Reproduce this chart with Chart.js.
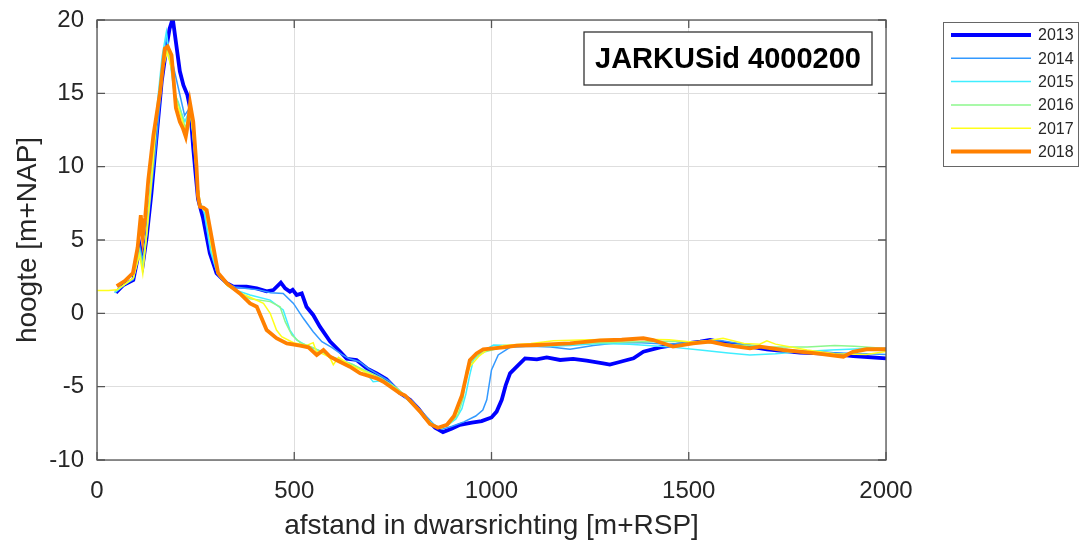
<!DOCTYPE html>
<html>
<head>
<meta charset="utf-8">
<script src="https://cdn.jsdelivr.net/npm/chart.js@4"></script>
<style>
  html, body { margin: 0; padding: 0; background: #fff; }
  #wrap { width: 1080px; height: 543px; }
</style>
</head>
<body>
<div id="wrap"><canvas id="myChart" width="1080" height="543"></canvas></div>
<script>
// jaren en kleuren
const years = ["2013", "2014", "2015", "2016", "2017", "2018"]
const colors = ["#0000ff", "#3399ff", "#40eeff", "#8cf78c", "#ffff1a", "#ff8000"]
const widths = [3.8, 1.5, 1.5, 1.5, 1.5, 3.8]

const xTicks = [0, 500, 1000, 1500, 2000]
const yTicks = [-10, -5, 0, 5, 10, 15, 20]

// profielen: afstand [m+RSP] en hoogte [m+NAP]
const dist2013 = [48, 67, 92, 109, 117, 126, 138, 147, 164, 177, 184, 192, 200, 210, 219, 229, 236, 244, 250, 256, 269, 286, 303, 329, 346, 379, 405, 430, 447, 466, 477, 489, 496, 506, 519, 531, 548, 565, 591, 616, 633, 658, 684, 709, 734, 768, 794, 815, 832, 857, 877, 900, 920, 950, 975, 1000, 1013, 1026, 1036, 1047, 1064, 1085, 1115, 1140, 1174, 1207, 1241, 1283, 1300, 1320, 1360, 1385, 1427, 1461, 1529, 1554, 1596, 1655, 1698, 1782, 1867, 1917, 2000]
const hoogte2013 = [1.4, 1.93, 2.27, 4.54, 3.5, 5.2, 8.2, 10.9, 15.8, 18.3, 19.4, 20.1, 18.5, 16.5, 15.56, 14.9, 14.0, 11.25, 9.5, 7.8, 6.48, 4.09, 2.73, 2.05, 1.82, 1.82, 1.7, 1.5, 1.59, 2.09, 1.7, 1.48, 1.6, 1.25, 1.36, 0.45, -0.11, -0.91, -1.93, -2.6, -3.1, -3.18, -3.75, -4.09, -4.5, -5.43, -5.9, -6.5, -7.1, -7.8, -8.1, -7.85, -7.6, -7.45, -7.35, -7.1, -6.7, -5.9, -4.9, -4.09, -3.64, -3.07, -3.14, -3.0, -3.18, -3.1, -3.23, -3.41, -3.5, -3.35, -3.07, -2.62, -2.32, -2.16, -1.93, -1.82, -2.05, -2.27, -2.45, -2.68, -2.77, -2.91, -3.07]

const dist2014 = [45, 67, 92, 109, 116, 126, 138, 150, 165, 176, 188, 205, 222, 235, 242, 250, 258, 272, 288, 305, 330, 350, 380, 410, 440, 472, 498, 523, 548, 570, 595, 620, 640, 665, 690, 715, 740, 768, 800, 830, 855, 875, 900, 930, 960, 978, 988, 1000, 1017, 1047, 1100, 1150, 1199, 1258, 1320, 1380, 1450, 1520, 1580, 1650, 1720, 1800, 1880, 1950, 2000]
const hoogte2014 = [1.4, 1.9, 2.3, 4.5, 3.6, 5.3, 8.5, 11.5, 16.0, 18.8, 17.5, 15.5, 13.5, 14.0, 12.5, 10.0, 7.8, 6.8, 4.2, 2.7, 2.0, 1.8, 1.7, 1.6, 1.4, 1.36, 0.68, -0.34, -1.25, -1.93, -2.32, -2.8, -3.1, -3.3, -3.8, -4.2, -4.6, -5.4, -6.0, -6.9, -7.6, -7.9, -7.7, -7.4, -7.0, -6.6, -5.9, -3.86, -2.84, -2.32, -2.25, -2.3, -2.45, -2.2, -2.0, -2.0, -2.1, -1.95, -1.85, -2.15, -2.4, -2.6, -2.7, -2.75, -2.8]

const dist2015 = [45, 67, 92, 108, 116, 126, 138, 150, 165, 176, 186, 196, 206, 215, 223, 236, 244, 252, 260, 272, 288, 305, 330, 360, 388, 439, 472, 489, 506, 531, 560, 590, 620, 650, 680, 700, 720, 750, 780, 810, 840, 865, 890, 910, 925, 935, 945, 954, 975, 1005, 1050, 1100, 1150, 1200, 1275, 1350, 1444, 1529, 1600, 1655, 1720, 1782, 1860, 1951, 2000]
const hoogte2015 = [1.4, 1.9, 2.4, 4.2, 2.95, 5.5, 9.5, 13.5, 17.5, 19.2, 17.0, 15.0, 14.4, 13.6, 13.06, 14.0, 12.0, 9.6, 7.6, 6.9, 4.3, 2.7, 1.9, 1.5, 1.25, 0.9, 0.23, -1.14, -1.82, -2.2, -2.5, -2.9, -3.2, -3.5, -4.0, -4.66, -4.6, -4.9, -5.7, -6.5, -7.3, -7.8, -7.6, -7.2, -6.5, -5.5, -4.2, -3.18, -2.62, -2.16, -2.2, -2.2, -2.25, -2.2, -2.05, -2.1, -2.27, -2.5, -2.7, -2.84, -2.75, -2.62, -2.5, -2.4, -2.4]

const dist2016 = [45, 67, 92, 108, 116, 126, 138, 150, 165, 178, 188, 200, 212, 224, 236, 246, 254, 262, 276, 292, 308, 330, 360, 388, 439, 464, 477, 494, 515, 545, 575, 605, 640, 680, 720, 760, 790, 820, 850, 872, 895, 915, 928, 937, 958, 984, 1030, 1100, 1200, 1275, 1350, 1450, 1520, 1600, 1700, 1800, 1870, 1920, 2000]
const hoogte2016 = [1.5, 1.9, 2.4, 4.3, 3.2, 5.6, 9.3, 13.0, 16.8, 18.0, 16.8, 14.8, 13.8, 12.6, 14.0, 11.8, 9.0, 7.4, 6.9, 4.3, 2.7, 1.9, 1.4, 1.0, 0.8, 0.45, -0.57, -1.48, -2.0, -2.3, -2.7, -3.1, -3.4, -3.9, -4.4, -5.1, -5.8, -6.8, -7.6, -7.85, -7.5, -6.9, -5.8, -3.86, -2.96, -2.62, -2.3, -2.2, -2.05, -2.0, -1.95, -1.9, -1.95, -2.1, -2.3, -2.3, -2.2, -2.25, -2.4]

const dist2017 = [0, 30, 50, 67, 92, 108, 116, 126, 138, 150, 165, 178, 188, 200, 212, 224, 236, 246, 254, 262, 276, 292, 308, 330, 360, 388, 422, 439, 455, 468, 498, 530, 548, 556, 575, 590, 599, 612, 640, 680, 720, 760, 790, 820, 850, 870, 893, 912, 925, 935, 945, 967, 988, 1030, 1100, 1157, 1250, 1350, 1450, 1506, 1550, 1587, 1640, 1680, 1698, 1720, 1800, 1870, 1950, 2000]
const hoogte2017 = [1.55, 1.55, 1.6, 1.9, 2.4, 4.0, 2.7, 5.4, 9.0, 12.8, 16.5, 17.8, 16.8, 14.5, 13.5, 12.4, 14.0, 11.6, 9.0, 7.3, 6.9, 4.3, 2.6, 1.9, 1.4, 1.1, 0.68, 0.0, -1.14, -1.59, -2.0, -2.2, -2.0, -2.6, -2.8, -3.0, -3.5, -3.0, -3.5, -4.0, -4.5, -5.2, -5.8, -6.8, -7.6, -7.85, -7.5, -6.8, -5.6, -4.5, -3.64, -2.96, -2.5, -2.2, -2.05, -1.87, -1.8, -1.75, -1.8, -1.95, -1.85, -1.7, -2.05, -2.1, -1.87, -2.1, -2.5, -2.75, -2.8, -2.6]

const dist2018 = [50, 70, 91, 103, 111, 116, 122, 130, 143, 160, 172, 179, 189, 200, 210, 218, 225, 231, 236, 244, 252, 256, 261, 270, 278, 295, 307, 329, 362, 388, 405, 430, 455, 481, 515, 536, 557, 574, 591, 608, 641, 667, 709, 726, 768, 781, 819, 844, 864, 887, 905, 915, 925, 935, 945, 962, 979, 1030, 1064, 1115, 1199, 1275, 1330, 1385, 1410, 1460, 1511, 1554, 1596, 1655, 1681, 1739, 1824, 1892, 1916, 1951, 2000]
const hoogte2018 = [1.86, 2.2, 2.75, 4.5, 6.7, 5.2, 6.5, 9.1, 12.15, 15.1, 18.06, 18.2, 17.6, 14.0, 13.06, 12.6, 12.04, 13.0, 14.3, 13.06, 10.1, 8.0, 7.27, 7.2, 7.04, 4.54, 2.75, 2.05, 1.36, 0.68, 0.45, -1.14, -1.7, -2.05, -2.2, -2.32, -2.84, -2.5, -2.96, -3.2, -3.64, -4.09, -4.43, -4.66, -5.45, -5.6, -6.7, -7.55, -7.8, -7.6, -7.0, -6.3, -5.6, -4.4, -3.2, -2.73, -2.45, -2.32, -2.2, -2.16, -2.05, -1.85, -1.8, -1.7, -1.82, -2.27, -2.05, -1.93, -2.16, -2.39, -2.27, -2.5, -2.73, -2.96, -2.62, -2.45, -2.45]

const dists = [dist2013, dist2014, dist2015, dist2016, dist2017, dist2018]
const hoogtes = [hoogte2013, hoogte2014, hoogte2015, hoogte2016, hoogte2017, hoogte2018]

const font = "'Liberation Sans', Arial, sans-serif"
const axisColor = "#555555"

const datasets = years.map((year, i) => ({
  label: year,
  data: dists[i].map((x, j) => ({ x: x, y: hoogtes[i][j] })),
  borderColor: colors[i],
  backgroundColor: colors[i],
  borderWidth: widths[i],
  pointRadius: 0,
  tension: 0,
  fill: false,
  order: years.length - 1 - i, // 2018 bovenop
}))

// kader, tickjes, titelvak en legenda
const extras = {
  id: "extras",
  afterDraw(chart) {
    const c = chart.ctx
    const a = chart.chartArea
    const xs = chart.scales.x
    const ys = chart.scales.y
    c.save()
    c.strokeStyle = axisColor
    c.lineWidth = 1.3
    c.strokeRect(a.left, a.top, a.right - a.left, a.bottom - a.top)
    c.beginPath()
    xTicks.forEach((v) => {
      const px = xs.getPixelForValue(v)
      c.moveTo(px, a.bottom); c.lineTo(px, a.bottom - 8)
      c.moveTo(px, a.top); c.lineTo(px, a.top + 8)
    })
    yTicks.forEach((v) => {
      const py = ys.getPixelForValue(v)
      c.moveTo(a.left, py); c.lineTo(a.left + 8, py)
      c.moveTo(a.right, py); c.lineTo(a.right - 8, py)
    })
    c.stroke()

    // titelvak
    c.fillStyle = "#fff"
    c.fillRect(584, 32, 288, 53)
    c.strokeStyle = "#333"
    c.lineWidth = 1.3
    c.strokeRect(584, 32, 288, 53)
    c.fillStyle = "#000"
    c.font = "bold 29px " + font
    c.textAlign = "center"
    c.textBaseline = "middle"
    c.fillText("JARKUSid 4000200", 728, 60)

    // legenda
    c.fillStyle = "#fff"
    c.fillRect(943.5, 22.5, 135, 144)
    c.strokeStyle = "#666"
    c.lineWidth = 1
    c.strokeRect(943.5, 22.5, 135, 144)
    c.font = "16px " + font
    c.textAlign = "left"
    c.fillStyle = "#262626"
    chart.data.datasets.forEach((ds, i) => {
      const y = 35 + i * 23.3
      c.strokeStyle = ds.borderColor
      c.lineWidth = ds.borderWidth
      c.beginPath()
      c.moveTo(951, y); c.lineTo(1031, y)
      c.stroke()
      c.fillText(ds.label, 1038, y + 1)
    })
    c.restore()
  },
}

const ctx = document.getElementById("myChart").getContext("2d")
const myChart = new Chart(ctx, {
  type: "line",
  data: { datasets: datasets },
  options: {
    responsive: false,
    animation: false,
    layout: { padding: { left: 0, right: 194, top: 20, bottom: 0 } },
    plugins: {
      legend: { display: false },
      tooltip: { enabled: false },
    },
    scales: {
      x: {
        type: "linear",
        min: 0,
        max: 2000,
        afterFit: (scale) => {
          scale.height = 83
          scale.paddingLeft = 0
          scale.paddingRight = 0
        },
        afterBuildTicks: (scale) => { scale.ticks = xTicks.map((v) => ({ value: v })) },
        ticks: {
          color: "#262626",
          font: { family: font, size: 24 },
          padding: 17,
          maxRotation: 0,
          callback: (v) => String(v),
        },
        grid: { color: "#dedede", drawTicks: false },
        border: { display: false },
        title: {
          display: true,
          text: "afstand in dwarsrichting [m+RSP]",
          color: "#262626",
          font: { family: font, size: 28 },
          padding: { top: 0, bottom: 0 },
        },
      },
      y: {
        type: "linear",
        min: -10,
        max: 20,
        afterFit: (scale) => {
          scale.width = 97
          scale.paddingTop = 0
          scale.paddingBottom = 0
        },
        afterBuildTicks: (scale) => { scale.ticks = yTicks.map((v) => ({ value: v })) },
        ticks: { color: "#262626", font: { family: font, size: 24 }, padding: 13 },
        grid: { color: "#dedede", drawTicks: false },
        border: { display: false },
        title: {
          display: true,
          text: "hoogte [m+NAP]",
          color: "#262626",
          font: { family: font, size: 28 },
          padding: { top: 11, bottom: 0 },
        },
      },
    },
  },
  plugins: [extras],
})
</script>
</body>
</html>
